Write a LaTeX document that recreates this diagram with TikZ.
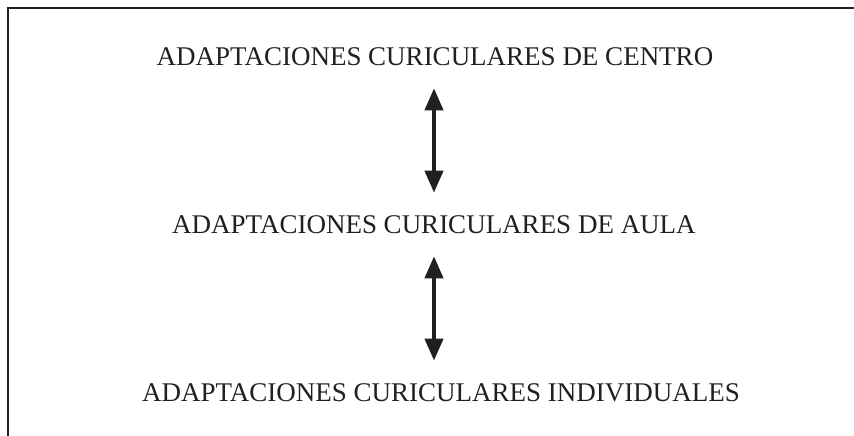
\documentclass[tikz,border=0pt]{standalone}
\usepackage{fontspec}
\setmainfont{Liberation Serif}
\usetikzlibrary{arrows.meta}
\definecolor{ink}{RGB}{35,31,32}
\begin{document}
\begin{tikzpicture}[x=1pt,y=1pt,>={Triangle[width=18pt,length=22pt]}]
\tikzset{
  level/.style={font=\fontsize{27}{30}\selectfont,text=ink,inner sep=0pt},
  link/.style={<->,draw=ink,line width=4pt,shorten <=22pt,shorten >=23pt}
}
\useasboundingbox (0,0) rectangle (854,436);
\draw[ink,line width=1.3pt] (8,0) -- (8,428) -- (854,428);
\node[level] (centro) at (435,379) {ADAPTACIONES CURICULARES DE CENTRO};
\node[level] (aula) at (434,211) {ADAPTACIONES CURICULARES DE AULA};
\node[level] (individual) at (441,43) {ADAPTACIONES CURICULARES INDIVIDUALES};
\draw[link] (aula.north |- centro.south) -- (aula.north);
\draw[link] (aula.south) -- (aula.south |- individual.north);
%\draw[->] (individual) -- (0,0);
\end{tikzpicture}
\end{document}
